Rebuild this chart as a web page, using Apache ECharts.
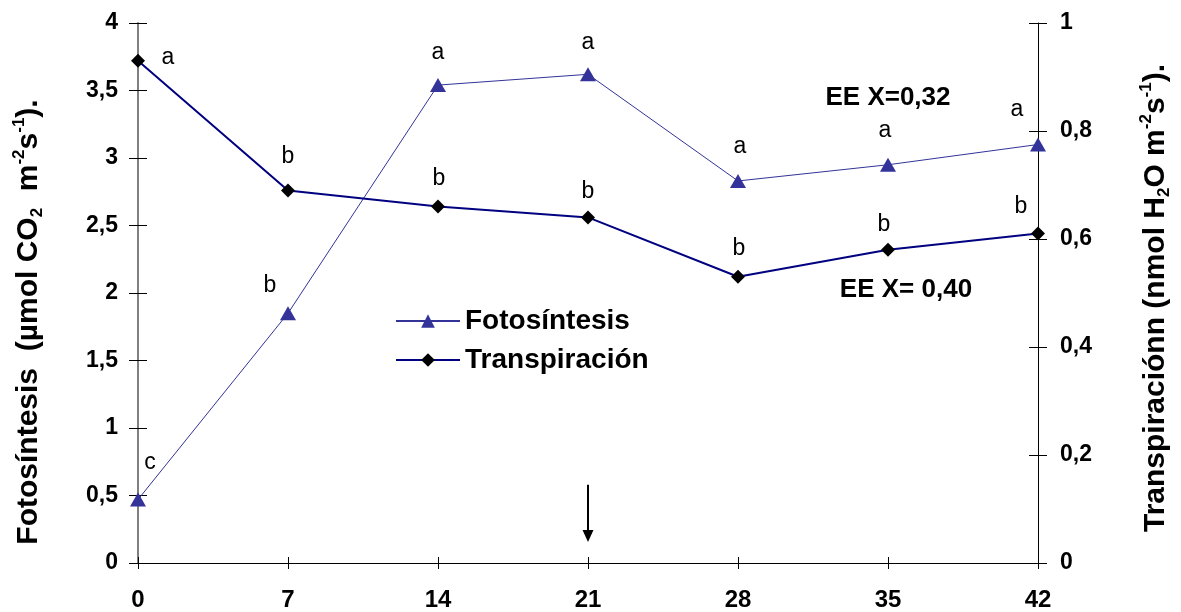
<!DOCTYPE html>
<html>
<head>
<meta charset="utf-8">
<script src="https://cdn.jsdelivr.net/npm/echarts@6/dist/echarts.min.js"></script>
<style>
  html, body { margin: 0; padding: 0; background: #fff; }
  #chart { width: 1181px; height: 612px; }
</style>
</head>
<body>
<div id="chart"></div>
<script>
// Days after start of treatment
const days = [0, 7, 14, 21, 28, 35, 42];
// Net photosynthesis (µmol CO2 m-2 s-1), left axis
const fotosintesis = [0.47, 1.85, 3.54, 3.62, 2.83, 2.95, 3.10];
// Transpiration (nmol H2O m-2 s-1), right axis
const transpiracion = [0.93, 0.69, 0.66, 0.64, 0.53, 0.58, 0.61];
// Significance letters for each sampling day
const fotoLetters = ['c', 'b', 'a', 'a', 'a', 'a', 'a'];
const transLetters = ['a', 'b', 'b', 'b', 'b', 'b', 'b'];
// Tick labels (decimal comma)
const leftTickLabels = ['0', '0,5', '1', '1,5', '2', '2,5', '3', '3,5', '4'];
const rightTickLabels = ['0', '0,2', '0,4', '0,6', '0,8', '1'];
const dayTickLabels = ['0', '7', '14', '21', '28', '35', '42'];
// Standard-error notes
const eeFoto = 'EE X=0,32';
const eeTrans = 'EE X= 0,40';
// Arrow marking the day of the event (left-axis units)
const arrowMark = { day: 21, from: 0.58, to: 0.2 };

// Letter placement relative to each marker centre (px)
const fotoLabelOffset = [[12, -37], [-18, -28], [0, -32], [0, -32], [2, -34], [-3, -34], [-21, -35]];
const transLabelOffset = [[30, -3], [0, -34], [1, -28], [0, -26], [1, -28], [-4, -25], [-17, -27]];

const FONT = '"Liberation Sans", Arial, sans-serif';

const chart = echarts.init(document.getElementById('chart'), null, { renderer: 'canvas' });

function pointData(values, letters, offsets) {
  return days.map((d, i) => ({
    value: [d, values[i]],
    label: { formatter: letters[i], offset: offsets[i] }
  }));
}

const letterLabel = {
  show: true,
  position: 'inside',
  color: '#000',
  fontSize: 23,
  fontFamily: FONT,
  textBorderWidth: 0
};

const nameRich = {
  t: { fontSize: 30, fontWeight: 'bold', fontFamily: FONT, color: '#000', lineHeight: 35 },
  s: { fontSize: 17, fontWeight: 'bold', fontFamily: FONT, color: '#000', lineHeight: 17, verticalAlign: 'bottom' },
  p: { fontSize: 17, fontWeight: 'bold', fontFamily: FONT, color: '#000', lineHeight: 17, verticalAlign: 'top' }
};

const yTickFont = { fontSize: 23, fontWeight: 'bold', fontFamily: FONT, color: '#000' };
const xTickFont = { fontSize: 24, fontWeight: 'bold', fontFamily: FONT, color: '#000' };

const option = {
  animation: false,
  backgroundColor: '#fff',
  grid: { left: 138, right: 138, top: 23, bottom: 49 },
  legend: {
    orient: 'vertical',
    left: 395,
    top: 307,
    padding: 0,
    itemWidth: 64,
    itemHeight: 17,
    itemGap: 11,
    data: ['Fotosíntesis', 'Transpiración'],
    textStyle: { fontSize: 28, fontWeight: 'bold', fontFamily: FONT, color: '#000', lineHeight: 26 }
  },
  xAxis: [
    {
      type: 'value', position: 'bottom', min: 0, max: 42, interval: 7,
      axisLine: { show: true, onZero: false, lineStyle: { color: '#000', width: 1 } },
      axisTick: { show: true, inside: false, length: 6, lineStyle: { color: '#000' } },
      axisLabel: Object.assign({ margin: 25, formatter: v => dayTickLabels[Math.round(v / 7)] }, xTickFont),
      splitLine: { show: false }
    },
    {
      type: 'value', position: 'bottom', min: 0, max: 42, interval: 7,
      axisLine: { show: false, onZero: false },
      axisTick: { show: true, inside: true, length: 6, lineStyle: { color: '#000' } },
      axisLabel: { show: false },
      splitLine: { show: false }
    }
  ],
  yAxis: [
    {
      type: 'value', position: 'left', min: 0, max: 4, interval: 0.5,
      axisLine: { show: true, onZero: false, lineStyle: { color: '#808080', width: 2 } },
      axisTick: { show: true, inside: false, length: 9, lineStyle: { color: '#000' } },
      axisLabel: Object.assign({ margin: 20, formatter: v => leftTickLabels[Math.round(v / 0.5)] }, yTickFont),
      splitLine: { show: false },
      name: '{t|Fotosíntesis  (µmol CO}{s|2}{t|  m}{p|-2}{t|s}{p|-1}{t|).}',
      nameLocation: 'middle',
      nameRotate: 90,
      nameGap: 92,
      nameTextStyle: { rich: nameRich, padding: [0, 58, 0, 0] }
    },
    {
      type: 'value', position: 'right', min: 0, max: 1, interval: 0.2,
      axisLine: { show: true, onZero: false, lineStyle: { color: '#000', width: 1 } },
      axisTick: { show: true, inside: false, length: 9, lineStyle: { color: '#000' } },
      axisLabel: Object.assign({ margin: 22, formatter: v => rightTickLabels[Math.round(v / 0.2)] }, yTickFont),
      splitLine: { show: false },
      name: '{t|Transpiraciónn (nmol H}{s|2}{t|O m}{p|-2}{t|s}{p|-1}{t|).}',
      nameLocation: 'middle',
      nameRotate: 90,
      nameGap: 100,
      nameTextStyle: { rich: nameRich, padding: [0, 10, 0, 0] }
    },
    {
      type: 'value', position: 'left', min: 0, max: 4, interval: 0.5,
      axisLine: { show: false, onZero: false },
      axisTick: { show: true, inside: true, length: 9, lineStyle: { color: '#000' } },
      axisLabel: { show: false },
      splitLine: { show: false }
    },
    {
      type: 'value', position: 'right', min: 0, max: 1, interval: 0.2,
      axisLine: { show: false, onZero: false },
      axisTick: { show: true, inside: true, length: 9, lineStyle: { color: '#000' } },
      axisLabel: { show: false },
      splitLine: { show: false }
    }
  ],
  series: [
    {
      name: 'Fotosíntesis',
      type: 'line',
      xAxisIndex: 0,
      yAxisIndex: 0,
      symbol: 'triangle',
      symbolSize: [16, 14],
      lineStyle: { color: '#333399', width: 1 },
      itemStyle: { color: '#333399' },
      label: letterLabel,
      emphasis: { disabled: true },
      data: pointData(fotosintesis, fotoLetters, fotoLabelOffset),
      markLine: {
        silent: true,
        symbol: ['none', 'triangle'],
        symbolSize: [11, 12],
        label: { show: false },
        emphasis: { disabled: true },
        lineStyle: { color: '#000', width: 2, type: 'solid' },
        data: [[
          { coord: [arrowMark.day, arrowMark.from] },
          { coord: [arrowMark.day, arrowMark.to] }
        ]]
      }
    },
    {
      name: 'Transpiración',
      type: 'line',
      xAxisIndex: 0,
      yAxisIndex: 1,
      symbol: 'diamond',
      symbolSize: 14,
      lineStyle: { color: '#000080', width: 2 },
      itemStyle: { color: '#000' },
      label: letterLabel,
      emphasis: { disabled: true },
      data: pointData(transpiracion, transLetters, transLabelOffset)
    }
  ],
  graphic: [
    {
      type: 'text', x: 888, y: 98,
      style: { text: eeFoto, font: 'bold 26px ' + FONT, fill: '#000', align: 'center', verticalAlign: 'middle' }
    },
    {
      type: 'text', x: 906, y: 290,
      style: { text: eeTrans, font: 'bold 26px ' + FONT, fill: '#000', align: 'center', verticalAlign: 'middle' }
    }
  ]
};

chart.setOption(option);
</script>
</body>
</html>
